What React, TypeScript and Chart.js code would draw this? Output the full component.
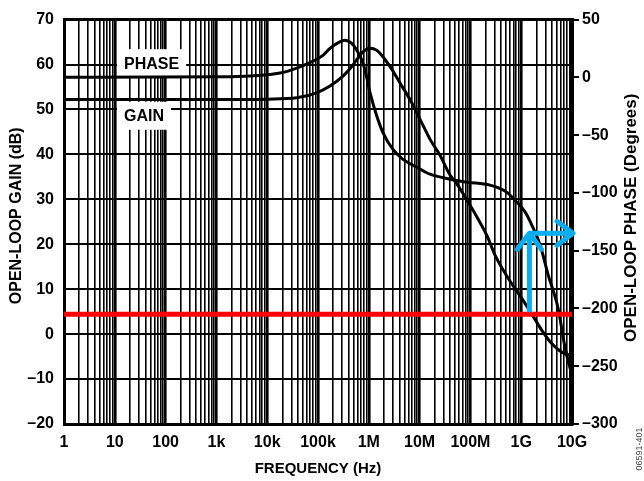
import React, { useEffect, useRef } from 'react';
import { Chart, registerables } from 'chart.js';

Chart.register(...registerables);

const FONT = "'Liberation Sans', Arial, Helvetica, sans-serif";

// ---- axis definitions ----
const decadeValues = [1, 10, 100, 1e3, 1e4, 1e5, 1e6, 1e7, 1e8, 1e9, 1e10];
const decadeLabels = ['1', '10', '100', '1k', '10k', '100k', '1M', '10M', '100M', '1G', '10G'];
const gridMultipliers = [1, 2, 3, 4, 5, 6, 7, 8, 9];

const gainAxisMin = -20;
const gainAxisMax = 70;
const gainAxisStep = 10;
const phaseAxisMin = -300;
const phaseAxisMax = 50;
const phaseAxisStep = 50;

// ---- series: open-loop gain (dB) ----
const gainFreq = [
  1, 1e3, 1e4, 3.81e4, 9.43e4, 1.72e5, 3.1e5, 4.89e5, 6.71e5, 8.41e5, 1.06e6,
  1.43e6, 1.66e6, 2.61e6, 4.11e6, 6.47e6, 1.02e7, 1.6e7, 2.52e7, 3.98e7, 5.37e7,
  1.12e8, 2.12e8, 3.05e8, 5.5e8, 1.02e9, 1.61e9, 2.53e9, 3.98e9, 6.27e9, 1e10,
];
const gainDb = [
  52.2, 52.2, 52.3, 52.6, 53.7, 55.2, 57.4, 59.9, 62.1, 63.2, 63.6,
  63.2, 62.5, 59.6, 55.9, 52.2, 47.8, 43.4, 39.8, 35.4, 33.5,
  27.6, 21.9, 17.6, 12.5, 8.0, 4.5, 0.9, -2.1, -4.0, -4.8,
];

// ---- series: open-loop phase (degrees) ----
const phaseFreq = [
  1, 1.85e3, 1.79e4, 3.81e4, 7.98e4, 1.25e5, 1.72e5, 2.37e5, 3.4e5, 4.61e5, 5.78e5,
  7.25e5, 8.41e5, 1.06e6, 1.43e6, 1.9e6, 2.99e6, 4.71e6, 8.89e6, 1.6e7, 3.98e7,
  8.57e7, 2.43e8, 5.18e8, 8.15e8, 1.19e9, 1.61e9, 2.34e9, 3.37e9, 5.3e9, 7.28e9, 1e10,
];
const phaseDeg = [
  0, 0.5, 3.7, 8.0, 14.0, 19.1, 25.1, 29.4, 32.2, 29.4, 23.7,
  15.1, 6.5, -13.5, -33.2, -47.8, -62.4, -71.0, -77.8, -83.8, -88.1,
  -90.7, -93.3, -99.3, -107.8, -116.4, -127.6, -144.7, -170.5, -199.4, -233.7, -258,
];

// ---- annotations ----
const referenceGainDb = 4.4; // red horizontal line
const markerFreq = 1.45e9; // blue arrow location
const markerPhaseDeg = -135; // blue arrow level on the phase axis
const curveLabels = [
  { text: 'PHASE', freq: 15.2, gain: 60.3 },
  { text: 'GAIN', freq: 15.2, gain: 48.6 },
];
const leftTitle = 'OPEN-LOOP GAIN (dB)';
const rightTitle = 'OPEN-LOOP PHASE (Degrees)';
const bottomTitle = 'FREQUENCY (Hz)';
const figureCode = '06591-401';

const gridValues: number[] = [];
decadeValues.slice(0, -1).forEach((d) => gridMultipliers.forEach((m) => gridValues.push(d * m)));
gridValues.push(decadeValues[decadeValues.length - 1]);

const isDecade = (v: number) => Math.abs(Math.log10(v) - Math.round(Math.log10(v))) < 1e-6;
const fmtNeg = (v: number) => (v < 0 ? '\u2013' + Math.abs(v) : String(v));

const overlayPlugin = {
  id: 'overlay',
  beforeDatasetsDraw(chart: any) {
    const { ctx } = chart;
    const x = chart.scales.x;
    const y = chart.scales.y;
    ctx.save();
    ctx.font = `bold 16px ${FONT}`;
    ctx.textBaseline = 'middle';
    ctx.textAlign = 'left';
    for (const lab of curveLabels) {
      const px = x.getPixelForValue(lab.freq);
      const py = y.getPixelForValue(lab.gain);
      const w = ctx.measureText(lab.text).width;
      ctx.fillStyle = '#ffffff';
      ctx.fillRect(px - 7, py - 14, w + 14, 28);
      ctx.fillStyle = '#000000';
      ctx.fillText(lab.text, px, py + 1);
    }
    ctx.restore();
  },
  afterDatasetsDraw(chart: any) {
    const { ctx, chartArea } = chart;
    const x = chart.scales.x;
    const y = chart.scales.y;
    const y2 = chart.scales.y2;
    const ax = x.getPixelForValue(markerFreq);
    const y0 = y.getPixelForValue(referenceGainDb);
    const y1 = y2.getPixelForValue(markerPhaseDeg);
    const xr = chartArea.right + 1;
    ctx.save();
    ctx.strokeStyle = '#0AAEEF';
    ctx.lineWidth = 5;
    ctx.lineJoin = 'round';
    ctx.lineCap = 'butt';
    ctx.beginPath();
    ctx.moveTo(ax, y0 - 2);
    ctx.lineTo(ax, y1);
    ctx.moveTo(ax, y1);
    ctx.lineTo(xr, y1);
    ctx.stroke();
    ctx.lineCap = 'round';
    ctx.beginPath();
    ctx.moveTo(ax - 12, y1 + 16);
    ctx.lineTo(ax, y1);
    ctx.lineTo(ax + 12, y1 + 16);
    ctx.stroke();
    ctx.beginPath();
    ctx.moveTo(xr - 16, y1 - 12);
    ctx.lineTo(xr, y1);
    ctx.lineTo(xr - 16, y1 + 12);
    ctx.stroke();
    ctx.restore();
  },
  afterDraw(chart: any) {
    const { ctx, chartArea, width, height } = chart;
    const midY = (chartArea.top + chartArea.bottom) / 2;

    ctx.save();
    ctx.fillStyle = '#000000';
    ctx.font = `bold 16px ${FONT}`;
    ctx.textAlign = 'center';
    ctx.textBaseline = 'middle';
    ctx.translate(16.5, midY - 6);
    ctx.rotate(-Math.PI / 2);
    ctx.fillText(leftTitle, 0, 0);
    ctx.restore();

    ctx.save();
    ctx.fillStyle = '#000000';
    ctx.font = `bold 17px ${FONT}`;
    ctx.textAlign = 'center';
    ctx.textBaseline = 'middle';
    ctx.translate(width - 13, midY - 4);
    ctx.rotate(-Math.PI / 2);
    ctx.fillText(rightTitle, 0, 0);
    ctx.restore();

    ctx.save();
    ctx.fillStyle = '#444444';
    ctx.font = `9px ${FONT}`;
    ctx.textAlign = 'center';
    ctx.textBaseline = 'middle';
    ctx.translate(width - 4, height - 32);
    ctx.rotate(-Math.PI / 2);
    ctx.fillText(figureCode, 0, 0);
    ctx.restore();
  },
};

export default function App() {
  const ref = useRef<HTMLCanvasElement | null>(null);

  useEffect(() => {
    if (!ref.current) return;
    const chart = new Chart(ref.current, {
      type: 'line',
      data: {
        datasets: [
          {
            label: 'ref',
            data: [
              { x: decadeValues[0], y: referenceGainDb },
              { x: decadeValues[decadeValues.length - 1], y: referenceGainDb },
            ],
            borderColor: '#FF0000',
            borderWidth: 5,
            pointRadius: 0,
            yAxisID: 'y',
            order: 0,
          },
          {
            label: 'GAIN',
            data: gainFreq.map((f, i) => ({ x: f, y: gainDb[i] })),
            borderColor: '#000000',
            borderWidth: 3,
            pointRadius: 0,
            cubicInterpolationMode: 'monotone',
            yAxisID: 'y',
            order: 1,
          },
          {
            label: 'PHASE',
            data: phaseFreq.map((f, i) => ({ x: f, y: phaseDeg[i] })),
            borderColor: '#000000',
            borderWidth: 3,
            pointRadius: 0,
            cubicInterpolationMode: 'monotone',
            yAxisID: 'y2',
            order: 2,
          },
        ],
      },
      options: {
        responsive: false,
        animation: false,
        events: [],
        layout: { padding: { top: 16, left: 0, right: 0, bottom: 0 } },
        plugins: { legend: { display: false }, tooltip: { enabled: false } },
        scales: {
          x: {
            type: 'logarithmic',
            position: 'bottom',
            min: decadeValues[0],
            max: decadeValues[decadeValues.length - 1],
            afterBuildTicks: (scale: any) => {
              scale.ticks = gridValues.map((v) => ({ value: v }));
            },
            afterFit: (scale: any) => {
              scale.height = 57;
            },
            ticks: {
              autoSkip: false,
              maxRotation: 0,
              minRotation: 0,
              padding: 9,
              color: '#000000',
              font: { family: FONT, size: 16, weight: 'bold' },
              callback: (value: any) => {
                const idx = decadeValues.findIndex((d) => Math.abs(d - Number(value)) / d < 1e-6);
                return idx >= 0 ? decadeLabels[idx] : '';
              },
            },
            grid: {
              color: '#000000',
              drawTicks: false,
              lineWidth: (c: any) => (c.tick && isDecade(c.tick.value) ? 2.6 : 1.6),
            },
            border: { display: true, color: '#000000', width: 3 },
            title: {
              display: true,
              text: bottomTitle,
              color: '#000000',
              font: { family: FONT, size: 15, weight: 'bold' },
              padding: { top: 0, bottom: 3 },
            },
          },
          y: {
            type: 'linear',
            position: 'left',
            min: gainAxisMin,
            max: gainAxisMax,
            afterFit: (scale: any) => {
              scale.width = 64;
            },
            ticks: {
              stepSize: gainAxisStep,
              padding: 10,
              color: '#000000',
              font: { family: FONT, size: 16, weight: 'bold' },
              callback: (v: any) => fmtNeg(Number(v)),
            },
            grid: {
              color: '#000000',
              drawTicks: false,
              lineWidth: (c: any) =>
                c.tick && (c.tick.value === gainAxisMax || c.tick.value === gainAxisMin) ? 3 : 2,
            },
            border: { display: true, color: '#000000', width: 3 },
          },
          y2: {
            type: 'linear',
            position: 'right',
            min: phaseAxisMin,
            max: phaseAxisMax,
            afterFit: (scale: any) => {
              scale.width = 72;
            },
            ticks: {
              stepSize: phaseAxisStep,
              padding: 3,
              color: '#000000',
              font: { family: FONT, size: 16, weight: 'bold' },
              callback: (v: any) => fmtNeg(Number(v)),
            },
            grid: {
              drawOnChartArea: false,
              drawTicks: true,
              tickLength: 7,
              color: '#000000',
              lineWidth: 2,
            },
            border: { display: true, color: '#000000', width: 4 },
          },
        },
      },
      plugins: [overlayPlugin],
    } as any);
    return () => chart.destroy();
  }, []);

  return (
    <div style={{ position: 'absolute', left: 0, top: 0, width: 644, height: 481, background: '#fff' }}>
      <canvas ref={ref} width={644} height={481} />
    </div>
  );
}
